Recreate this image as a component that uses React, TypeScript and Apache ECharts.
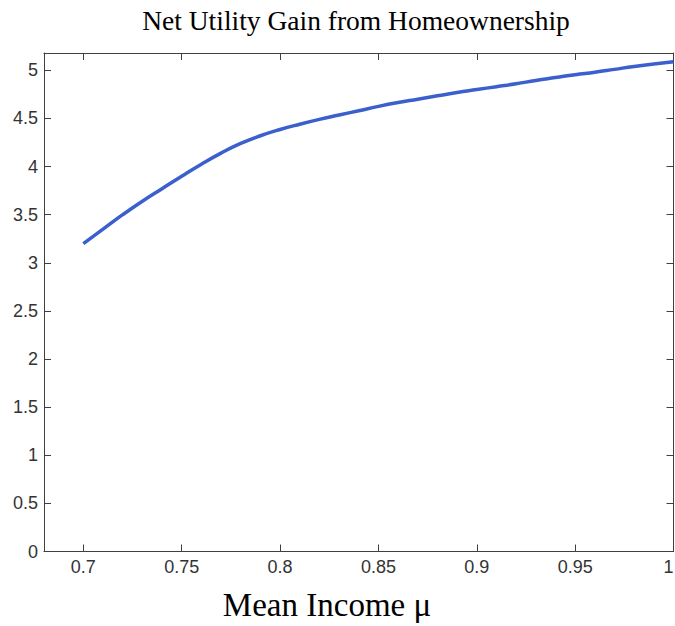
import React, { useEffect, useRef } from "react";
import * as echarts from "echarts";

const titleText = "Net Utility Gain from Homeownership";
const xAxisTitle = "Mean Income μ";
const incomeMu = [
  0.70, 0.71, 0.72, 0.73, 0.74, 0.75, 0.76, 0.77, 0.78, 0.79, 0.80,
  0.81, 0.82, 0.83, 0.84, 0.85, 0.86, 0.87, 0.88, 0.89, 0.90,
  0.91, 0.92, 0.93, 0.94, 0.95, 0.96, 0.97, 0.98, 0.99, 1.00,
];
const utilityGain = [
  3.20, 3.35, 3.50, 3.64, 3.77, 3.90, 4.025, 4.14, 4.24, 4.32, 4.385,
  4.44, 4.49, 4.535, 4.58, 4.625, 4.665, 4.70, 4.735, 4.77, 4.80,
  4.83, 4.86, 4.895, 4.925, 4.955, 4.98, 5.01, 5.04, 5.065, 5.09,
];

export default function App() {
  const ref = useRef<HTMLDivElement>(null);
  useEffect(() => {
    if (!ref.current) return;
    const chart = echarts.init(ref.current, null, { renderer: "svg" });
    const axisColor = "#404040";
    const labelStyle = {
      color: "#333",
      fontFamily: "Liberation Sans, Arial, sans-serif",
      fontSize: 18,
    };
    const data = incomeMu.map((x, i) => [x, utilityGain[i]]);
    const xCommon = {
      type: "value",
      min: 0.68,
      max: 1.0,
      splitNumber: 6,
      minInterval: 0.05,
      maxInterval: 0.05,
      axisLine: { show: true, onZero: false, lineStyle: { color: axisColor, width: 1 } },
      axisTick: { show: true, inside: true, length: 7, lineStyle: { color: axisColor } },
      splitLine: { show: false },
    };
    const yCommon = {
      type: "value",
      min: 0,
      max: 5.18,
      interval: 0.5,
      axisLine: { show: true, onZero: false, lineStyle: { color: axisColor, width: 1 } },
      axisTick: { show: true, inside: true, length: 7, lineStyle: { color: axisColor } },
      splitLine: { show: false },
    };
    chart.setOption({
      animation: false,
      backgroundColor: "#fff",
      title: {
        text: titleText,
        left: 351,
        top: 1,
        textAlign: "center",
        textStyle: {
          fontFamily: "Liberation Serif, Times New Roman, serif",
          fontSize: 27.5,
          fontWeight: "normal",
          color: "#000",
        },
      },
      grid: {
        left: 44,
        top: 53,
        width: 629.5,
        height: 498.5,
        containLabel: false,
        outerBoundsMode: "none",
      },
      xAxis: [
        {
          ...xCommon,
          position: "bottom",
          axisLabel: { ...labelStyle, margin: 6, showMinLabel: false, alignMaxLabel: "right" },
        },
        { ...xCommon, position: "top", axisLabel: { show: false } },
      ],
      yAxis: [
        { ...yCommon, position: "left", axisLabel: { ...labelStyle, margin: 6, showMaxLabel: false } },
        { ...yCommon, position: "right", axisLabel: { show: false } },
      ],
      graphic: [
        {
          type: "text",
          x: 327,
          y: 605,
          style: {
            text: xAxisTitle,
            fontFamily: "Liberation Serif, Times New Roman, serif",
            fontSize: 33,
            fill: "#000",
            textAlign: "center",
            textVerticalAlign: "middle",
          },
        },
      ],
      series: [
        {
          type: "line",
          data,
          xAxisIndex: 0,
          yAxisIndex: 0,
          showSymbol: false,
          smooth: 0.5,
          lineStyle: { color: "#3b5fcc", width: 3.5 },
        },
      ],
    });
    return () => chart.dispose();
  }, []);
  return (
    <div
      ref={ref}
      style={{ position: "absolute", left: 0, top: 0, width: 675, height: 626, overflow: "hidden" }}
    />
  );
}
